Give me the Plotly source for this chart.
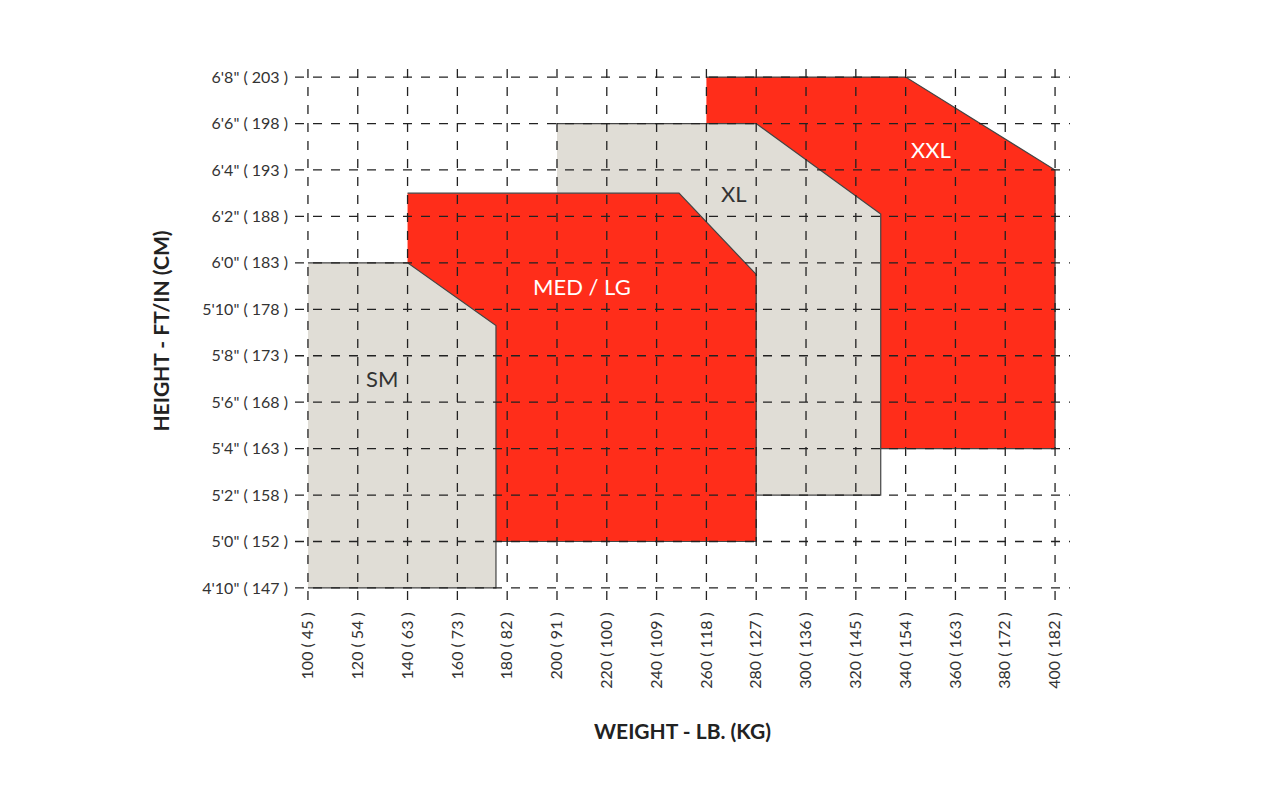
import plotly.graph_objects as go

weights_lb = [100,120,140,160,180,200,220,240,260,280,300,320,340,360,380,400]
weights_kg = [45,54,63,73,82,91,100,109,118,127,136,145,154,163,172,182]
heights_in = [58,60,62,64,66,68,70,72,74,76,78,80]
height_labels = ['4\'10" ( 147 )','5\'0" ( 152 )','5\'2" ( 158 )','5\'4" ( 163 )','5\'6" ( 168 )','5\'8" ( 173 )',
                 '5\'10" ( 178 )','6\'0" ( 183 )','6\'2" ( 188 )','6\'4" ( 193 )','6\'6" ( 198 )','6\'8" ( 203 )']

# size regions (weight lb, height in)
xxl_x = [260, 340, 400, 400, 260]
xxl_y = [80, 80, 76, 64, 64]
xl_x = [200, 280, 330, 330, 200]
xl_y = [78, 78, 74.1, 62, 62]
med_x = [140, 249, 280, 280, 140]
med_y = [75, 75, 71.5, 60, 60]
sm_x = [100, 140, 175.5, 175.5, 100]
sm_y = [72, 72, 69.3, 58, 58]
labels = [("SM", 129.7, 67), ("MED / LG", 210, 71), ("XL", 271, 75), ("XXL", 350, 76.9)]

RED = "#ff2d1a"; GREY = "#e0ddd6"
fig = go.Figure()
for xs, ys, c in [(xxl_x, xxl_y, RED), (xl_x, xl_y, GREY), (med_x, med_y, RED), (sm_x, sm_y, GREY)]:
    fig.add_trace(go.Scatter(x=xs, y=ys, fill="toself", fillcolor=c, mode="lines",
                             line=dict(color="#444", width=1.2), hoverinfo="skip", showlegend=False))

xr = [94.8, 406]; yr = [57.48, 80.65]
shapes = []
for w in weights_lb:
    shapes.append(dict(type="line", x0=w, x1=w, y0=yr[0], y1=yr[1], layer="above",
                       line=dict(color="#222", width=1.3, dash="dash")))
for h in heights_in:
    shapes.append(dict(type="line", x0=xr[0], x1=xr[1], y0=h, y1=h, layer="above",
                       line=dict(color="#222", width=1.3, dash="dash")))
fig.update_layout(shapes=shapes)

for t, x, y in labels:
    fig.add_annotation(x=x, y=y, text=t, showarrow=False,
                       font=dict(size=22, color="white" if t in ("MED / LG", "XXL") else "#333", family="Lato"))

fig.update_xaxes(range=xr, tickvals=weights_lb, ticktext=[f"{a} ( {b} )" for a, b in zip(weights_lb, weights_kg)],
                 tickangle=-90, showgrid=False, zeroline=False, ticks="", ticklabelstandoff=8,
                 tickfont=dict(size=16, color="#333", family="Lato"),
                 title=dict(text="<b>WEIGHT - LB. (KG)</b>", font=dict(size=21, color="#222", family="Lato"), standoff=36))
fig.update_yaxes(range=yr, tickvals=heights_in, ticktext=height_labels, showgrid=False, zeroline=False, ticks="",
                 ticklabelstandoff=6, tickfont=dict(size=16, color="#333", family="Lato"),
                 title=dict(text="<b>HEIGHT - FT/IN (CM)</b>", font=dict(size=21, color="#222", family="Lato"), standoff=26))
fig.update_layout(width=1280, height=800, margin=dict(l=287, r=218, t=54, b=208),
                  plot_bgcolor="white", paper_bgcolor="white")
fig.write_html("out.html")
